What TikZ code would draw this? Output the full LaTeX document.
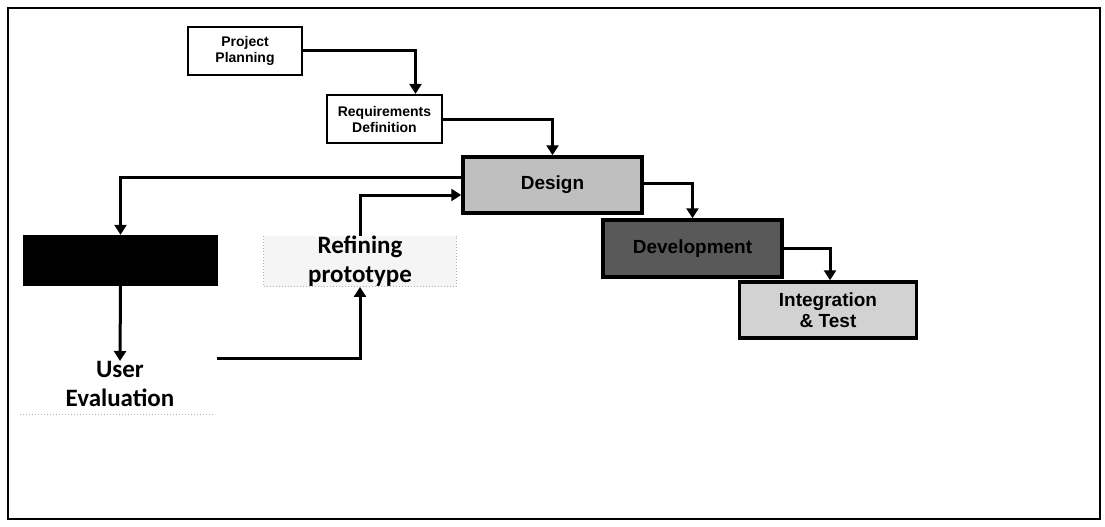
\documentclass[tikz,border=0pt]{standalone}
\usepackage{fontspec}
\setmainfont{Liberation Sans}
\newfontfamily\calfont{Carlito}
\usetikzlibrary{arrows.meta, positioning}

\begin{document}
\begin{tikzpicture}[
		x=1pt, y=-1pt,
		>={Triangle[length=10pt,width=12pt]},
		every node/.style={font=\bfseries},
		phase/.style={draw, rectangle, line width=2.2pt, align=center, inner sep=0pt, font=\bfseries\fontsize{14}{16}\selectfont},
		shaded/.style={phase, line width=3.5pt, font=\bfseries\fontsize{19}{21}\selectfont},
		proto/.style={rectangle, align=center, inner sep=0pt, font=\calfont\bfseries\fontsize{25}{29}\selectfont},
		flow/.style={->, line width=3pt}
		]
		\useasboundingbox (0,0) rectangle (1105,527);
		\draw[line width=1.8pt] (8,8) rectangle (1100,519);
		
		% --- Waterfall steps ---
		\node[phase, minimum width=114pt, minimum height=48pt] (plan) at (245,51) {Project\\Planning};
		\node[phase, minimum width=115pt, minimum height=48pt] (req) at (384.5,119) {Requirements\\Definition};
		\node[shaded, fill=gray!50, minimum width=179pt, minimum height=56pt] (design) at (552.5,185) {Design};
		\node[shaded, fill=black!65, minimum width=179pt, minimum height=57pt] (dev) at (692.5,248.5) {Development};
		\node[shaded, fill=gray!35, minimum width=177pt, minimum height=56pt] (integ) at (828,310) {Integration\\\& Test};
		
		% --- Prototyping loop ---
		\node[fill=black, minimum width=195pt, minimum height=51pt] (quick) at (120.5,260.5) {};
		\node[proto, fill=gray!8, minimum width=192pt, minimum height=47pt] (refine) at (360,261.5) {Refining\\prototype};
		\draw[gray!60, dotted, line width=1pt] (refine.north west) -- (refine.south west) -- (refine.south east) -- (refine.north east);
		\node[proto, anchor=north] (user) at (120,361) {User\\Evaluation};
		\coordinate (ueout) at (217,358);
		\draw[gray!60, dotted, line width=1pt] (20,414) -- (215,414);
		
		% --- Forward edges ---
		\draw[flow] (plan.east) -| ([xshift=31pt]req.north);
		\draw[flow] (req.east) -| (design.north);
		\draw[flow] ([yshift=2pt]design.east) -| (dev.north);
		\draw[flow] (dev.east) -| ([xshift=2pt]integ.north);
		
		% --- Loop edges ---
		\draw[flow] ([yshift=8pt]design.west) -| (quick.north);
		\draw[flow] (quick.south) -- (user.north);
		\draw[flow] (ueout) -| (refine.south);
		\draw[flow] (refine.north) |- ([yshift=-10pt]design.west);
	\end{tikzpicture}
\end{document}
